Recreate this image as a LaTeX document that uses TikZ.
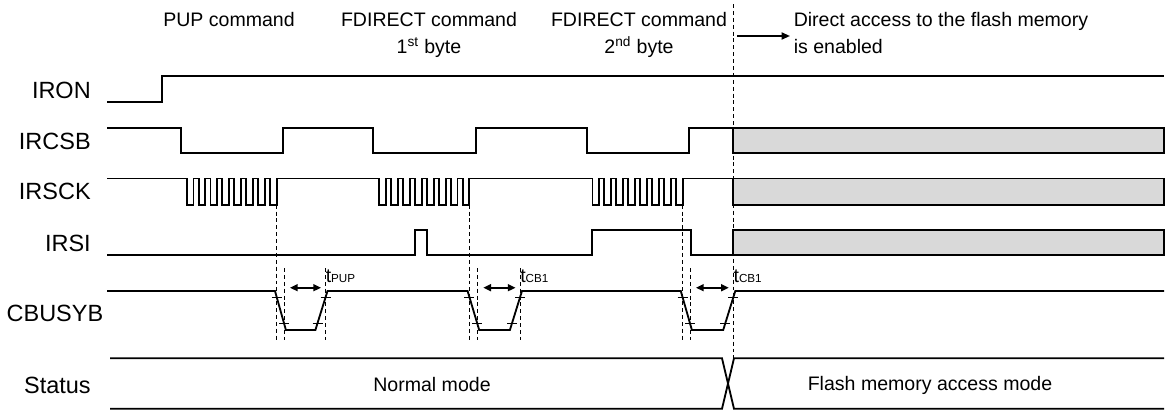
\documentclass[tikz,border=0pt]{standalone}
\usepackage{fontspec}
\setmainfont{Liberation Sans}
\usetikzlibrary{arrows.meta}
\definecolor{lockgrey}{HTML}{D9D9D9}

\begin{document}
\begin{tikzpicture}[x=0.025cm,y=-0.025cm,
  wave/.style={line width=1.3pt},
  guide/.style={line width=0.7pt,dash pattern=on 2.8pt off 2.1pt},
  edgetick/.style={line width=1pt},
  spanarrow/.style={line width=1.2pt,{Triangle[length=5.5pt,width=5pt]}-{Triangle[length=5.5pt,width=5pt]}},
  signame/.style={font=\fontsize{16.7}{20}\selectfont,anchor=east,inner sep=0pt},
  note/.style={font=\fontsize{13.9}{19.2}\selectfont,align=center,inner sep=0pt},
  tlabel/.style={font=\fontsize{13.9}{16}\selectfont,anchor=base west,inner sep=0pt}
]
\useasboundingbox (0,0) rectangle (1166,410);

% signal names
\node[signame] (n-iron) at (91,90.7) {IRON};
\node[signame] (n-ircsb) at (91,141.7) {IRCSB};
\node[signame] (n-irsck) at (91,191.7) {IRSCK};
\node[signame] (n-irsi) at (91,243.3) {IRSI};
\node[signame] (n-cbusyb) at (103.5,313.3) {CBUSYB};
\node[signame] (n-status) at (91,385) {Status};

% phase texts
\node[note,anchor=north] (t-pup) at (229,11.9) {PUP command};
\node[note,anchor=north] (t-fd1) at (429,11.9) {FDIRECT command\\1\textsuperscript{st} byte};
\node[note,anchor=north] (t-fd2) at (639,11.9) {FDIRECT command\\2\textsuperscript{nd} byte};
\node[note,anchor=north west,align=left] (t-direct) at (793.5,11.9) {Direct access to the flash memory\\is enabled};
\draw[line width=1.3pt,-{Triangle[length=6pt,width=5pt]}] (737,36) -- (790,36);

% IRON
\draw[wave] (107,101.7) -| (161.7,75.7) -- (1164,75.7);

% IRCSB
\draw[wave] (107,127.7) -| (181,153) -| (283.3,127.7) -| (373.3,153) -| (476,127.7)
  -| (586.7,153) -| (689.3,127.7) -- (733,127.7);
\draw[wave,fill=lockgrey] (733,127.7) rectangle (1164,153);

% IRSCK
\draw[wave] (107,178.5) foreach \s in {186.7,379.3,592.5} { -- (\s,178.5)
  foreach \k in {0,...,7} { -- ({\s+11.9*\k},178.5) -- ({\s+11.9*\k},204.7)
  -- ({\s+11.9*\k+6.8},204.7) -- ({\s+11.9*\k+6.8},178.5) } } -- (733,178.5);
\draw[wave,fill=lockgrey] (733,178.5) rectangle (1164,204.7);

% IRSI
\draw[wave] (107,255.3) -| (415,229.7) -| (427,255.3) -| (591.7,229.7) -| (690.7,255.3) -- (733,255.3);
\draw[wave,fill=lockgrey] (733,229.7) rectangle (1164,255.3);

% CBUSYB
\draw[wave] (107,291) foreach \a/\b/\c in {276.8/284/325.5,469.4/477.3/520,682.6/690/733.3} {
  -- ({\a-1.8},291) -- ({\b+1.9},330) -- ({\c-10.1},330) -- ({\c+2},291) } -- (1164,291);
\foreach \a/\b/\c in {276.8/284/325.5,469.4/477.3/520,682.6/690/733.3} {
  \draw[edgetick] ({\a-5},297.3) -- ({\a+5},297.3);
  \draw[edgetick] ({\b-5},323.3) -- ({\b+5},323.3);
  \draw[edgetick] ({\c-13},323.3) -- ({\c-3},323.3);
  \draw[edgetick] ({\c-5},297.3) -- ({\c+5},297.3);
  \draw[guide] (\a,204.7) -- (\a,340);
  \draw[guide] (\b,268) -- (\b,340);
  \draw[spanarrow] ({\b+6},287.7) -- ({\c-4.5},287.7);
}
\draw[guide] (325.5,268) -- (325.5,340);
\draw[guide] (520,268) -- (520,340);
\draw[guide] (733.3,4) -- (733.3,358.3);
\node[tlabel] (t-pup-time) at (325.5,282) {t\raisebox{-0.7pt}{\fontsize{8.3}{10}\selectfont PUP}};
\node[tlabel] (t-cb1-a) at (520,282) {t\raisebox{-0.7pt}{\fontsize{8.3}{10}\selectfont CB1}};
\node[tlabel] (t-cb1-b) at (733.3,282) {t\raisebox{-0.7pt}{\fontsize{8.3}{10}\selectfont CB1}};

% Status
\draw[wave] (110,358.3) -- (722,358.3) -- (734,408.8) -- (1164,408.8);
\draw[wave] (110,408.8) -- (722,408.8) -- (734,358.3) -- (1164,358.3);
\node[note] (s-normal) at (432,385) {Normal mode};
\node[note] (s-flash) at (930,385) {Flash memory access mode};
\end{tikzpicture}
\end{document}
